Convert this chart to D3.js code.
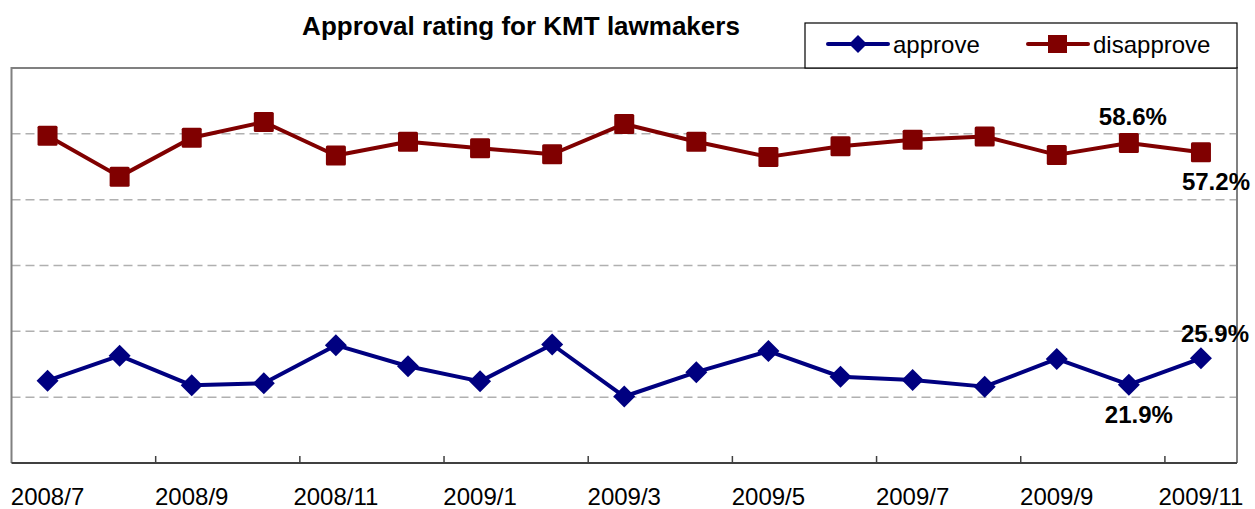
<!DOCTYPE html>
<html><head><meta charset="utf-8">
<script src="https://cdn.jsdelivr.net/npm/d3@7"></script>
<style>body{margin:0;background:#fff}svg{display:block}text{font-family:"Liberation Sans",Arial,sans-serif}</style>
</head><body>
<svg id="c" width="1255" height="509"></svg>
<script>
const categories = ["2008/7","2008/8","2008/9","2008/10","2008/11","2008/12","2009/1","2009/2","2009/3","2009/4","2009/5","2009/6","2009/7","2009/8","2009/9","2009/10","2009/11"];
const approve = [22.5,26.3,21.8,22.1,27.9,24.7,22.4,28.0,20.1,23.8,27.0,23.1,22.6,21.6,25.8,21.9,25.9];
const disapprove = [59.7,53.5,59.4,61.8,56.7,58.8,57.8,56.9,61.5,58.8,56.5,58.1,59.1,59.6,56.8,58.6,57.2];
const yTicks = [20,30,40,50,60];
const tickLabels = ["2008/7","2008/9","2008/11","2009/1","2009/3","2009/5","2009/7","2009/9","2009/11"];
const title = "Approval rating for KMT lawmakers";

const svg = d3.select("#c");
const L=11.5, R=1237, T=68, B=463;
const x = d3.scaleBand().domain(categories).range([L,R]);
const y = d3.scaleLinear().domain([10,70]).range([B,T]);
const cx = c => x(c)+x.bandwidth()/2;

// grid
svg.append("g").selectAll("line").data(yTicks).join("line")
  .attr("x1",L).attr("x2",R).attr("y1",d=>y(d)).attr("y2",d=>y(d))
  .attr("stroke","#b0b0b0").attr("stroke-width",1.5).attr("stroke-dasharray","9,5");

// frame
svg.append("path").attr("d",`M${L},${B}V${T}H${R}V${B}`).attr("fill","none").attr("stroke","#808080").attr("stroke-width",2);

// x axis
const ticksAt = categories.filter((c,i)=>i%2===0).slice(1);
const xa = svg.append("g");
xa.append("line").attr("x1",L).attr("x2",R).attr("y1",B).attr("y2",B).attr("stroke","#404040").attr("stroke-width",2);
xa.selectAll("line.t").data(ticksAt).join("line").attr("class","t")
  .attr("x1",d=>x(d)).attr("x2",d=>x(d)).attr("y1",B).attr("y2",B-7).attr("stroke","#404040").attr("stroke-width",1.5);
xa.selectAll("text").data(tickLabels).join("text")
  .attr("x",d=>cx(d)).attr("y",505).attr("text-anchor","middle").attr("font-size",24).attr("fill","#000").text(d=>d);

// lines
const line = d3.line().x((d,i)=>cx(categories[i])).y(d=>y(d));
svg.append("path").datum(disapprove).attr("d",line).attr("fill","none").attr("stroke","#800000").attr("stroke-width",4).attr("stroke-linejoin","round");
svg.append("path").datum(approve).attr("d",line).attr("fill","none").attr("stroke","#000080").attr("stroke-width",4).attr("stroke-linejoin","round");
svg.append("g").selectAll("rect").data(disapprove).join("rect")
  .attr("x",(d,i)=>cx(categories[i])-10).attr("y",d=>y(d)-10).attr("width",20).attr("height",20).attr("rx",1.5).attr("fill","#800000");
const dia = "M0,-11L11,0L0,11L-11,0Z";
svg.append("g").selectAll("path").data(approve).join("path")
  .attr("d",dia).attr("transform",(d,i)=>`translate(${cx(categories[i])},${y(d)})`).attr("fill","#000080");

// data labels
const lab = (v, i, dx, dy) => svg.append("text").attr("x",cx(categories[i])+dx).attr("y",y(v)+dy)
  .attr("text-anchor","middle").attr("font-size",24).attr("font-weight","bold").attr("fill","#000").text(v.toFixed(1)+"%");
lab(disapprove[15],15,4,-18);
lab(disapprove[16],16,15,38);
lab(approve[16],16,14,-16);
lab(approve[15],15,10,38);

// title
svg.append("text").attr("x",521).attr("y",35).attr("text-anchor","middle").attr("font-size",26).attr("font-weight","bold").text(title);

// legend
const lg = svg.append("g");
lg.append("rect").attr("x",805).attr("y",23).attr("width",R-805).attr("height",T-23).attr("fill","#fff").attr("stroke","#000").attr("stroke-width",1.2);
const items = [{name:"approve",color:"#000080",x0:828,shape:"d"},{name:"disapprove",color:"#800000",x0:1028,shape:"s"}];
items.forEach(it=>{
  lg.append("line").attr("x1",it.x0).attr("x2",it.x0+60).attr("y1",44).attr("y2",44).attr("stroke",it.color).attr("stroke-width",4).attr("stroke-linecap","round");
  if(it.shape==="d") lg.append("path").attr("d","M0,-9L9,0L0,9L-9,0Z").attr("transform",`translate(${it.x0+30},44)`).attr("fill",it.color);
  else lg.append("rect").attr("x",it.x0+20).attr("y",35).attr("width",19).attr("height",18).attr("fill",it.color);
  lg.append("text").attr("x",it.x0+65).attr("y",53).attr("font-size",24).attr("fill","#000").text(it.name);
});
</script>
</body></html>
